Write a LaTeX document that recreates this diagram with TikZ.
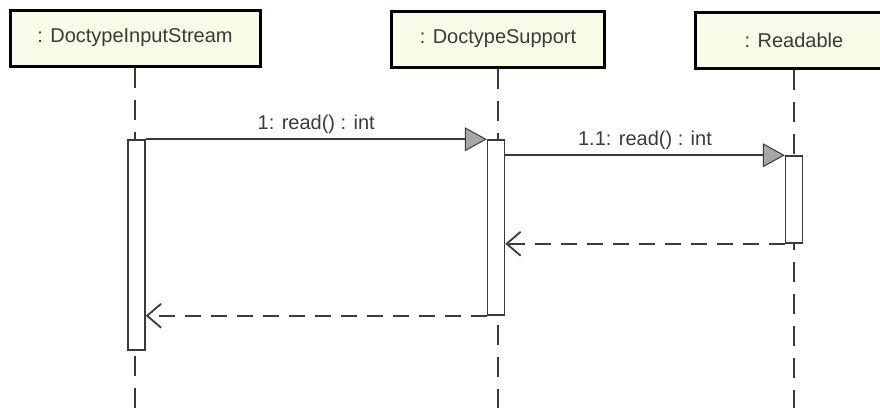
\documentclass[tikz,border=0pt]{standalone}
\usepackage{fontspec}
\setmainfont{Liberation Sans}
\usetikzlibrary{arrows.meta}
\definecolor{boxfill}{HTML}{FBFBEA}
\definecolor{ink}{HTML}{3A3A3A}

\begin{document}
\begin{tikzpicture}
  [x=1pt,y=-1pt,
   every node/.style={font=\fontsize{20}{24}\selectfont,text=ink},
   obj/.style={draw=black,line width=3pt,fill=boxfill,minimum height=56pt,inner sep=0pt},
   bar/.style={draw=ink,line width=1.5pt,fill=white,minimum width=17pt,inner sep=0pt},
   life/.style={draw=ink,line width=1.5pt,dash pattern=on 20pt off 12pt},
   call/.style={draw=ink,line width=1.8pt,-{Triangle[length=22pt,width=24pt,fill=gray!70,line width=1pt]}},
   reply/.style={draw=ink,line width=1.8pt,dash pattern=on 16pt off 10pt,-{Straight Barb[length=14pt,width=24pt,line width=1.8pt]}}]
  \useasboundingbox (0,0) rectangle (880,407);
  \coordinate (bottom) at (0,410);
  % objects
  \node[obj,minimum width=250pt] (ois) at (135,38) {: DoctypeInputStream};
  \node[obj,minimum width=213pt] (osu) at (498,39) {: DoctypeSupport};
  \node[obj,minimum width=198pt] (ord) at (794,40) {: Readable};
  \foreach \o in {ois,osu,ord}
    \draw[life] (\o.south) -- (\o.south |- bottom);
  % activations
  \node[bar,minimum height=210pt] (ais) at (136.5,245) {};
  \node[bar,minimum height=175pt] (asu) at (496,227.5) {};
  \node[bar,minimum height=87pt] (ard) at (794,199.5) {};
  % messages
  \draw[call] (ais.north east) -- node[above=1pt] {1: read() : int} (asu.north west);
  \draw[call] (ard.north west -| asu.east) -- node[above=1pt] {1.1: read() : int} (ard.north west);
  \draw[reply] (ard.south west) -- (ard.south west -| asu.east);
  \draw[reply] (asu.south west) -- (asu.south west -| ais.east);
\end{tikzpicture}
\end{document}
